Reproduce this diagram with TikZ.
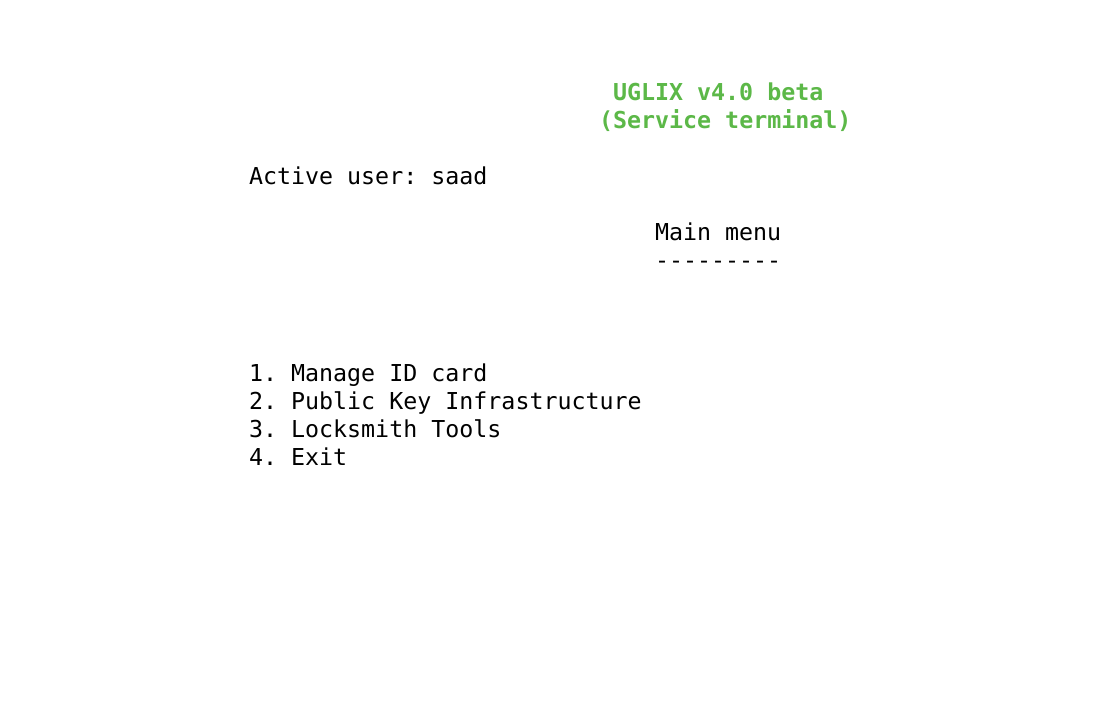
\documentclass[tikz,border=0pt]{standalone}
\usepackage{fontspec}
\setmonofont{DejaVu Sans Mono}
\usepackage{xcolor}
\usetikzlibrary{positioning}
\definecolor{termgreen}{RGB}{92,184,72}

\begin{document}
\begin{tikzpicture}[x=0.5pt, y=-0.5pt, node distance = 0pt,
		term/.style  = {font=\ttfamily\fontsize{11.65}{14}\selectfont, inner sep=0pt, outer sep=0pt, text height=10pt, text depth=4pt},
		head/.style  = {term, font=\ttfamily\bfseries\fontsize{11.65}{14}\selectfont, text=termgreen}]
				\useasboundingbox (0,0) rectangle (1120,708);
				
				\node (title)    [head, anchor=base west] at (613,100)  {UGLIX v4.0 beta};
				\node (subtitle) [head, anchor=base west] at (599,128)  {(Service terminal)};
				
				\node (user)     [term, anchor=base west] at (249,184)  {Active user: saad};
				
				\node (menu)     [term, anchor=base west] at (655,240)  {Main menu};
				\node (rule)     [term, below = of menu.south west, anchor=north west] {---------};
				
				\node (item1)    [term, anchor=base west] at (249,381)  {1. Manage ID card};
				\node (item2)    [term, below = of item1.south west, anchor=north west] {2. Public Key Infrastructure};
				\node (item3)    [term, below = of item2.south west, anchor=north west] {3. Locksmith Tools};
				\node (item4)    [term, below = of item3.south west, anchor=north west] {4. Exit};
				
			\end{tikzpicture}
\end{document}
